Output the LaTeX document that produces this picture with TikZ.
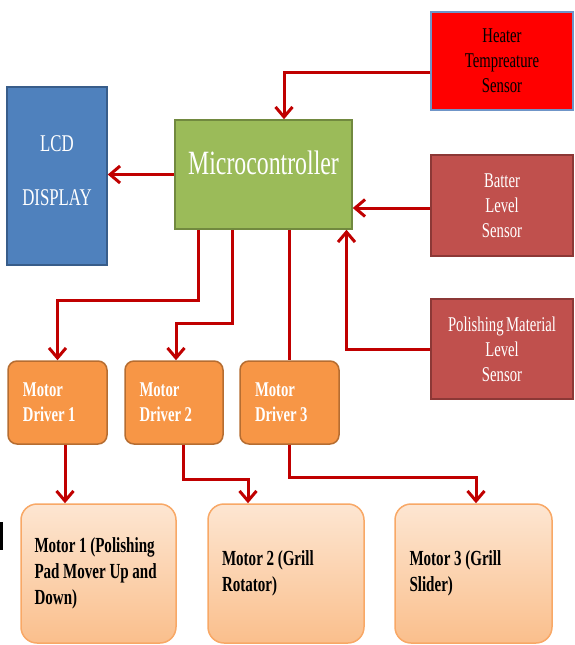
\documentclass[tikz,border=0pt]{standalone}
\usepackage{fontspec}
\newfontfamily\blockfont[FakeStretch=0.7, WordSpace=0.7]{Liberation Serif}
\protected\def\narrowspace{\spaceskip=0.17em\xspaceskip=0.2em\relax}
\usetikzlibrary{arrows.meta}

\definecolor{lcdblue}{HTML}{4F81BD}
\definecolor{lcdedge}{HTML}{385D8A}
\definecolor{mcugreen}{HTML}{9BBB59}
\definecolor{mcuedge}{HTML}{71893F}
\definecolor{heaterred}{HTML}{FF0000}
\definecolor{heateredge}{HTML}{6F95C8}
\definecolor{sensorred}{HTML}{C0504D}
\definecolor{sensoredge}{HTML}{8C3836}
\definecolor{drvorange}{HTML}{F79646}
\definecolor{drvedge}{HTML}{B66D31}
\definecolor{motortop}{HTML}{FDE6D2}
\definecolor{motorbottom}{HTML}{FABF8C}
\definecolor{motoredge}{HTML}{F8A866}
\definecolor{wirered}{HTML}{C00000}

\begin{document}
\begin{tikzpicture}[x=1pt, y=-1pt,
    box/.style={draw, rectangle, line width=1.5pt, inner sep=0pt, align=center},
    sensor/.style={box, fill=sensorred, draw=sensoredge, text=white, minimum width=142pt,
                   font=\blockfont\fontsize{21}{25}\selectfont},
    driver/.style={box, rounded corners=9pt, fill=drvorange, draw=drvedge, text=white,
                   minimum width=99pt, minimum height=83pt, text width=69pt, align=left,
                   font=\blockfont\bfseries\fontsize{21}{25}\selectfont,
                   execute at begin node=\narrowspace},
    motor/.style={box, rounded corners=16pt, top color=motortop, bottom color=motorbottom,
                  draw=motoredge, minimum width=156pt, minimum height=139pt, text width=128pt,
                  align=left, font=\blockfont\bfseries\fontsize{21.5}{26}\selectfont,
                  execute at begin node=\narrowspace},
    wire/.style={draw=wirered, line width=3pt},
    arr/.style={wire, -{Straight Barb[length=10pt,width=17pt]}}]
  \useasboundingbox (0,0) rectangle (574,645);

  %controller and display
  \node[box, fill=lcdblue, draw=lcdedge, text=white, minimum width=100pt, minimum height=178pt,
        font=\blockfont\fontsize{24}{53}\selectfont, name=lcd] at (57,176)
        {\raisebox{11pt}{\shortstack{LCD\\[34pt]DISPLAY}}};
  \node[box, fill=mcugreen, draw=mcuedge, text=white, minimum width=177pt, minimum height=109pt,
        text height=24pt, text depth=24pt, font=\blockfont\fontsize{34}{40}\selectfont, name=micro]
        at (263.5,174.5) {Microcontroller};

  %sensors
  \node[sensor, fill=heaterred, draw=heateredge, text=black, minimum height=98pt, name=heater]
        at (502,61) {Heater\\Tempreature\\Sensor};
  \node[sensor, minimum height=101pt, name=batter] at (502,205.5) {Batter\\Level\\Sensor};
  \node[sensor, minimum height=100pt, name=polish] at (502,349) {Polishing Material\\Level\\Sensor};

  %drivers
  \node[driver, name=drv1] at (57.5,402.5) {Motor\\Driver 1};
  \node[driver, minimum width=98pt, name=drv2] at (174,402.5) {Motor\\Driver 2};
  \node[driver, name=drv3] at (289.5,402.5) {Motor\\Driver 3};

  %motors
  \node[motor, minimum width=155pt, name=mot1] at (98.5,573.5)
        {\mbox{Motor 1 (Polishing}\\\mbox{Pad Mover Up and}\\Down)};
  \node[motor, name=mot2] at (286,573.5) {\mbox{Motor 2 (Grill}\\Rotator)};
  \node[motor, minimum width=157pt, name=mot3] at (473.5,573.5) {\mbox{Motor 3 (Grill}\\Slider)};

  %mark at the left edge
  \fill (0,522) rectangle (2.5,550);

  %arrows
  \draw[arr] ([yshift=-11pt]heater.west) -| ([xshift=20.5pt]micro.north);
  \draw[arr] (micro.west) -- (micro.west -| lcd.east);
  \draw[arr] ([yshift=-2.5pt]batter.west) -- ([yshift=-2.5pt]batter.west -| micro.east);
  \draw[arr] (polish.west) -| ([xshift=83pt]micro.south);
  \draw[arr] ([xshift=-65.5pt]micro.south) -- ++(0,71) -| (drv1.north);
  \draw[arr] ([xshift=-31pt]micro.south) -- ++(0,94) -| ([xshift=2pt]drv2.north);
  \draw[wire] (drv3.north |- micro.south) -- (drv3.north);
  \draw[arr] ([xshift=7.5pt]drv1.south) -- ([xshift=7.5pt]drv1.south |- mot1.north);
  \draw[arr] ([xshift=9pt]drv2.south) -- ++(0,35) -| ([xshift=-38pt]mot2.north);
  \draw[arr] (drv3.south) -- ++(0,33) -| ([xshift=2.5pt]mot3.north);
\end{tikzpicture}
\end{document}
